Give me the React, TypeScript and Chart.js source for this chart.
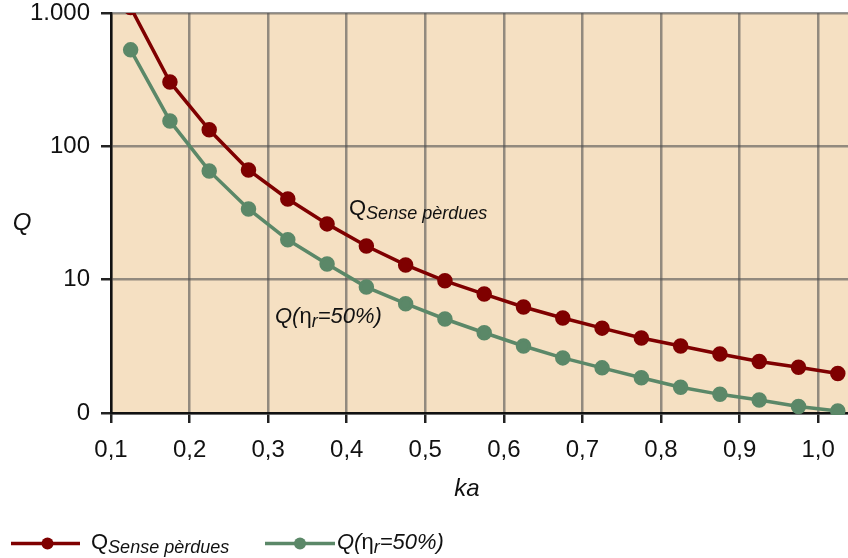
import React, { useEffect, useRef } from "react";
import { Chart, registerables } from "chart.js";

Chart.register(...registerables);

// ka values (bin centres) for both curves
const kaValues = [
  0.125, 0.175, 0.225, 0.275, 0.325, 0.375, 0.425, 0.475, 0.525, 0.575,
  0.625, 0.675, 0.725, 0.775, 0.825, 0.875, 0.925, 0.975, 1.025,
];

// Q without losses
const qLossless = [
  1100, 304, 133, 66.5, 40.3, 26.2, 17.9, 12.9, 9.8, 7.8,
  6.24, 5.16, 4.33, 3.65, 3.18, 2.77, 2.43, 2.2, 1.98,
];

// Q for 50 % radiation efficiency
const qEff50 = [
  529, 155, 65.4, 33.9, 19.9, 13.1, 8.8, 6.6, 5.07, 4.0,
  3.18, 2.59, 2.18, 1.84, 1.56, 1.38, 1.25, 1.12, 1.035,
];

const xTickValues = [0.1, 0.2, 0.3, 0.4, 0.5, 0.6, 0.7, 0.8, 0.9, 1.0];
const xTickLabels = ["0,1", "0,2", "0,3", "0,4", "0,5", "0,6", "0,7", "0,8", "0,9", "1,0"];
const yTickValues = [1, 10, 100, 1000];
const yTickLabels = ["0", "10", "100", "1.000"];

const RED = "#7f0000";
const GREEN = "#5b8868";
const BG = "#f5e0c2";
const FONT = "'Liberation Sans', Arial, sans-serif";

type Run = { text: string; font: string; dy?: number };

function drawRuns(ctx: CanvasRenderingContext2D, x: number, y: number, runs: Run[]) {
  let cx = x;
  for (const r of runs) {
    ctx.font = r.font;
    ctx.fillText(r.text, cx, y + (r.dy || 0));
    cx += ctx.measureText(r.text).width;
  }
}

const lossless = (ctx: CanvasRenderingContext2D, x: number, y: number) =>
  drawRuns(ctx, x, y, [
    { text: "Q", font: `22px ${FONT}` },
    { text: "Sense pèrdues", font: `italic 18px ${FONT}`, dy: 4 },
  ]);

const eff50 = (ctx: CanvasRenderingContext2D, x: number, y: number) =>
  drawRuns(ctx, x, y, [
    { text: "Q(", font: `italic 22px ${FONT}` },
    { text: "η", font: `22px ${FONT}` },
    { text: "r", font: `italic 18px ${FONT}`, dy: 4 },
    { text: "=50%)", font: `italic 22px ${FONT}` },
  ]);

const decorations = {
  id: "decorations",
  beforeDraw(chart: any) {
    const { ctx, chartArea: a } = chart;
    ctx.save();
    ctx.fillStyle = BG;
    ctx.fillRect(a.left, a.top, a.right - a.left, a.bottom - a.top);
    ctx.restore();
  },
  afterDraw(chart: any) {
    const ctx: CanvasRenderingContext2D = chart.ctx;
    ctx.save();
    ctx.fillStyle = "#111";
    ctx.textBaseline = "alphabetic";
    ctx.textAlign = "left";

    // in-plot curve labels
    lossless(ctx, 349, 215);
    eff50(ctx, 275, 323);

    // axis titles
    ctx.font = `italic 24px ${FONT}`;
    ctx.textAlign = "center";
    ctx.fillText("ka", 467, 496);
    ctx.fillText("Q", 22, 230);
    ctx.textAlign = "left";

    // legend
    const items = [
      { color: RED, x0: 11, x1: 80, dot: 47.5, tx: 91, draw: lossless },
      { color: GREEN, x0: 265, x1: 335, dot: 300, tx: 337, draw: eff50 },
    ];
    const ly = 543.5;
    for (const it of items) {
      ctx.strokeStyle = it.color;
      ctx.lineWidth = 3.5;
      ctx.beginPath();
      ctx.moveTo(it.x0, ly);
      ctx.lineTo(it.x1, ly);
      ctx.stroke();
      ctx.fillStyle = it.color;
      ctx.beginPath();
      ctx.arc(it.dot, ly, 6, 0, Math.PI * 2);
      ctx.fill();
      ctx.fillStyle = "#111";
      it.draw(ctx, it.tx, 549);
    }
    ctx.restore();
  },
};

export default function App() {
  const ref = useRef<HTMLCanvasElement>(null);

  useEffect(() => {
    document.body.style.margin = "0";
    const canvas = ref.current;
    if (!canvas) return;
    const gridOpts = {
      color: "rgba(80,80,80,0.6)",
      lineWidth: 2.5,
      tickColor: "#222",
      tickLength: 10,
      tickWidth: 2.5,
    };
    const clipArea = { top: 0, left: 2, right: 2, bottom: 2 };
    const chart = new Chart(canvas, {
      type: "line",
      data: {
        datasets: [
          {
            label: "Q Sense pèrdues",
            data: kaValues.map((x, i) => ({ x, y: qLossless[i] })),
            borderColor: RED,
            backgroundColor: RED,
            borderWidth: 3.5,
            pointRadius: 6,
            pointHoverRadius: 6,
            tension: 0,
            clip: clipArea,
          },
          {
            label: "Q(ηr=50%)",
            data: kaValues.map((x, i) => ({ x, y: qEff50[i] })),
            borderColor: GREEN,
            backgroundColor: GREEN,
            borderWidth: 3.5,
            pointRadius: 6,
            pointHoverRadius: 6,
            tension: 0,
            clip: clipArea,
          },
        ],
      },
      options: {
        responsive: false,
        animation: false,
        devicePixelRatio: 1,
        layout: { autoPadding: false, padding: { top: 13, right: 0, left: 0, bottom: 0 } },
        plugins: { legend: { display: false }, tooltip: { enabled: false } },
        scales: {
          x: {
            type: "linear",
            min: 0.1,
            max: 1.038,
            afterBuildTicks: (s: any) => {
              s.ticks = xTickValues.map((v) => ({ value: v }));
            },
            afterFit: (s: any) => {
              s.height = 145;
              s.paddingLeft = 0;
              s.paddingRight = 0;
            },
            ticks: {
              autoSkip: false,
              maxRotation: 0,
              padding: 13,
              color: "#111",
              font: { family: FONT, size: 24 },
              callback: (v: any) => {
                const i = xTickValues.findIndex((t) => Math.abs(t - Number(v)) < 1e-6);
                return i >= 0 ? xTickLabels[i] : "";
              },
            },
            grid: gridOpts,
            border: { color: "#111", width: 2.5 },
          },
          y: {
            type: "logarithmic",
            min: 1,
            max: 1000,
            afterBuildTicks: (s: any) => {
              s.ticks = yTickValues.map((v) => ({ value: v }));
            },
            afterFit: (s: any) => {
              s.width = 111;
              s.paddingTop = 0;
              s.paddingBottom = 0;
            },
            ticks: {
              autoSkip: false,
              padding: 11,
              color: "#111",
              font: { family: FONT, size: 24 },
              callback: (v: any) => {
                const i = yTickValues.indexOf(Number(v));
                return i >= 0 ? yTickLabels[i] : "";
              },
            },
            grid: gridOpts,
            border: { color: "#111", width: 2.5 },
          },
        },
      },
      plugins: [decorations],
    });
    return () => chart.destroy();
  }, []);

  return (
    <div style={{ position: "absolute", left: 0, top: 0, width: 848, height: 558 }}>
      <canvas ref={ref} width={848} height={558} />
    </div>
  );
}
